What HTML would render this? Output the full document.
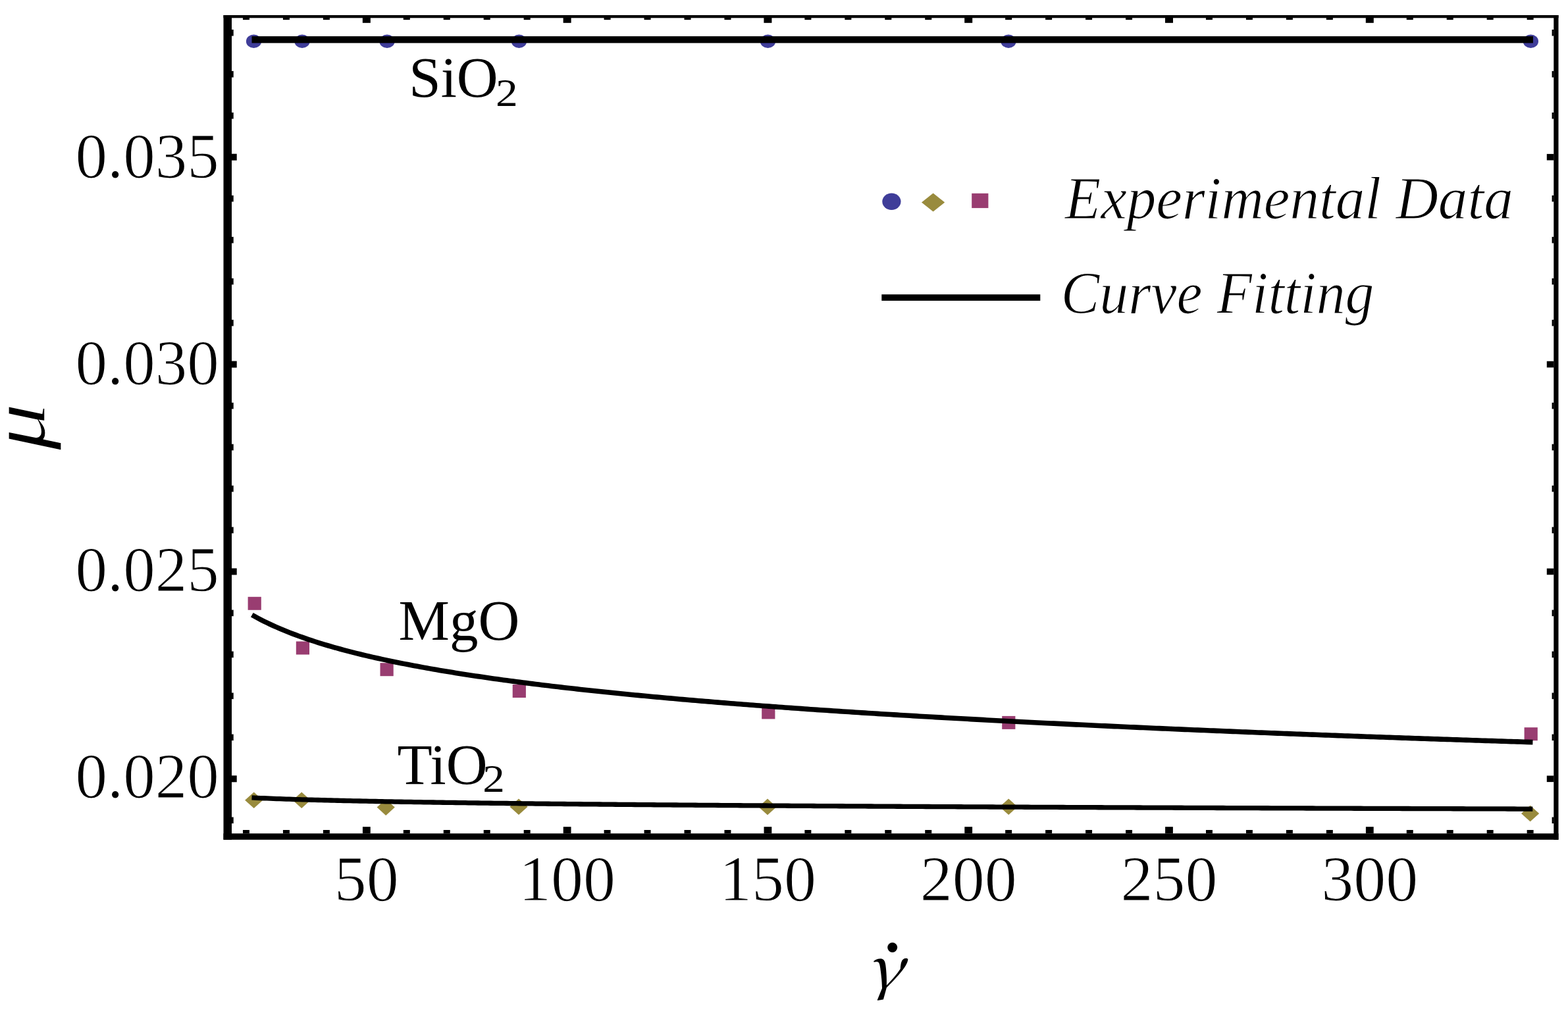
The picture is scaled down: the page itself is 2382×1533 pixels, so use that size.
<!DOCTYPE html>
<html><head><meta charset="utf-8"><title>Plot</title>
<style>html,body{margin:0;padding:0;background:#fff;}svg{display:block;}</style></head>
<body><svg width="2382" height="1533" viewBox="0 0 2382 1533">
<rect width="2382" height="1533" fill="#fff"/>
<ellipse cx="385.5" cy="62.7" rx="11.6" ry="10.2" fill="#3f3d99"/>
<ellipse cx="459" cy="62.7" rx="11.6" ry="10.2" fill="#3f3d99"/>
<ellipse cx="588" cy="62.7" rx="11.6" ry="10.2" fill="#3f3d99"/>
<ellipse cx="788.5" cy="62.7" rx="11.6" ry="10.2" fill="#3f3d99"/>
<ellipse cx="1166.5" cy="62.7" rx="11.6" ry="10.2" fill="#3f3d99"/>
<ellipse cx="1532" cy="62.7" rx="11.6" ry="10.2" fill="#3f3d99"/>
<ellipse cx="2325.4" cy="62.7" rx="11.6" ry="10.2" fill="#3f3d99"/>
<rect x="376.60" y="906.80" width="20.2" height="20" fill="#993d71"/>
<rect x="449.80" y="974.50" width="20.2" height="20" fill="#993d71"/>
<rect x="577.50" y="1007.20" width="20.2" height="20" fill="#993d71"/>
<rect x="778.70" y="1040.00" width="20.2" height="20" fill="#993d71"/>
<rect x="1157.20" y="1072.40" width="20.2" height="20" fill="#993d71"/>
<rect x="1522.20" y="1087.90" width="20.2" height="20" fill="#993d71"/>
<rect x="2315.60" y="1105.20" width="20.2" height="20" fill="#993d71"/>
<polygon points="372.10,1215.80 385.70,1203.50 399.30,1215.80 385.70,1228.10" fill="#998b3d"/>
<polygon points="444.60,1215.80 458.20,1203.50 471.80,1215.80 458.20,1228.10" fill="#998b3d"/>
<polygon points="572.60,1226.60 586.20,1214.30 599.80,1226.60 586.20,1238.90" fill="#998b3d"/>
<polygon points="774.40,1225.70 788.00,1213.40 801.60,1225.70 788.00,1238.00" fill="#998b3d"/>
<polygon points="1152.40,1225.90 1166.00,1213.60 1179.60,1225.90 1166.00,1238.20" fill="#998b3d"/>
<polygon points="1518.60,1225.80 1532.20,1213.50 1545.80,1225.80 1532.20,1238.10" fill="#998b3d"/>
<polygon points="2311.00,1236.00 2324.60,1223.70 2338.20,1236.00 2324.60,1248.30" fill="#998b3d"/>
<rect x="382.5" y="55.1" width="1946.5" height="10.3" fill="#000"/>
<polyline points="386.14,936.10 391.00,938.75 395.86,941.32 400.72,943.79 405.58,946.18 410.44,948.49 415.29,950.73 420.15,952.90 425.01,955.01 429.87,957.05 434.73,959.04 439.59,960.97 444.44,962.85 449.30,964.68 454.16,966.46 459.02,968.20 463.88,969.90 468.74,971.55 473.59,973.17 478.45,974.75 483.31,976.30 488.17,977.81 493.03,979.29 497.89,980.74 502.74,982.16 507.60,983.55 512.46,984.91 517.32,986.25 522.18,987.56 527.04,988.85 531.89,990.11 536.75,991.35 541.61,992.57 546.47,993.77 551.33,994.94 556.19,996.10 561.04,997.24 565.90,998.35 570.76,999.46 575.62,1000.54 580.48,1001.60 585.34,1002.65 590.19,1003.69 595.05,1004.71 599.91,1005.71 604.77,1006.70 609.63,1007.67 614.49,1008.63 619.34,1009.58 624.20,1010.52 629.06,1011.44 633.92,1012.35 638.78,1013.24 643.64,1014.13 648.49,1015.00 653.35,1015.87 658.21,1016.72 663.07,1017.56 667.93,1018.39 672.79,1019.21 677.64,1020.02 682.50,1020.82 687.36,1021.61 692.22,1022.40 697.08,1023.17 701.94,1023.94 706.79,1024.69 711.65,1025.44 716.51,1026.18 721.37,1026.91 726.23,1027.63 731.09,1028.35 735.94,1029.06 740.80,1029.76 745.66,1030.45 750.52,1031.14 755.38,1031.82 760.24,1032.49 765.09,1033.16 769.95,1033.81 774.81,1034.47 779.67,1035.11 784.53,1035.75 789.39,1036.39 794.24,1037.02 799.10,1037.64 803.96,1038.25 808.82,1038.87 813.68,1039.47 818.54,1040.07 823.39,1040.66 828.25,1041.25 833.11,1041.84 837.97,1042.42 842.83,1042.99 847.69,1043.56 852.54,1044.12 857.40,1044.68 862.26,1045.24 867.12,1045.79 871.98,1046.33 876.84,1046.87 881.70,1047.41 886.55,1047.94 891.41,1048.47 896.27,1048.99 901.13,1049.51 905.99,1050.03 910.85,1050.54 915.70,1051.05 920.56,1051.55 925.42,1052.05 930.28,1052.55 935.14,1053.04 940.00,1053.53 944.85,1054.01 949.71,1054.49 954.57,1054.97 959.43,1055.45 964.29,1055.92 969.15,1056.39 974.00,1056.85 978.86,1057.31 983.72,1057.77 988.58,1058.22 993.44,1058.68 998.30,1059.12 1003.15,1059.57 1008.01,1060.01 1012.87,1060.45 1017.73,1060.89 1022.59,1061.32 1027.45,1061.75 1032.30,1062.18 1037.16,1062.61 1042.02,1063.03 1046.88,1063.45 1051.74,1063.87 1056.60,1064.28 1061.45,1064.69 1066.31,1065.10 1071.17,1065.51 1076.03,1065.91 1080.89,1066.31 1085.75,1066.71 1090.60,1067.11 1095.46,1067.50 1100.32,1067.90 1105.18,1068.29 1110.04,1068.67 1114.90,1069.06 1119.75,1069.44 1124.61,1069.82 1129.47,1070.20 1134.33,1070.58 1139.19,1070.95 1144.05,1071.32 1148.90,1071.69 1153.76,1072.06 1158.62,1072.42 1163.48,1072.79 1168.34,1073.15 1173.20,1073.51 1178.05,1073.87 1182.91,1074.22 1187.77,1074.57 1192.63,1074.93 1197.49,1075.28 1202.35,1075.62 1207.20,1075.97 1212.06,1076.31 1216.92,1076.66 1221.78,1077.00 1226.64,1077.34 1231.50,1077.67 1236.35,1078.01 1241.21,1078.34 1246.07,1078.67 1250.93,1079.00 1255.79,1079.33 1260.65,1079.66 1265.50,1079.98 1270.36,1080.31 1275.22,1080.63 1280.08,1080.95 1284.94,1081.27 1289.80,1081.58 1294.65,1081.90 1299.51,1082.21 1304.37,1082.53 1309.23,1082.84 1314.09,1083.15 1318.95,1083.45 1323.80,1083.76 1328.66,1084.07 1333.52,1084.37 1338.38,1084.67 1343.24,1084.97 1348.10,1085.27 1352.95,1085.57 1357.81,1085.87 1362.67,1086.16 1367.53,1086.45 1372.39,1086.75 1377.25,1087.04 1382.10,1087.33 1386.96,1087.62 1391.82,1087.90 1396.68,1088.19 1401.54,1088.47 1406.40,1088.76 1411.25,1089.04 1416.11,1089.32 1420.97,1089.60 1425.83,1089.88 1430.69,1090.16 1435.55,1090.43 1440.40,1090.71 1445.26,1090.98 1450.12,1091.25 1454.98,1091.53 1459.84,1091.80 1464.70,1092.06 1469.55,1092.33 1474.41,1092.60 1479.27,1092.87 1484.13,1093.13 1488.99,1093.39 1493.85,1093.66 1498.70,1093.92 1503.56,1094.18 1508.42,1094.44 1513.28,1094.70 1518.14,1094.95 1523.00,1095.21 1527.85,1095.46 1532.71,1095.72 1537.57,1095.97 1542.43,1096.22 1547.29,1096.47 1552.15,1096.72 1557.00,1096.97 1561.86,1097.22 1566.72,1097.47 1571.58,1097.71 1576.44,1097.96 1581.30,1098.20 1586.15,1098.45 1591.01,1098.69 1595.87,1098.93 1600.73,1099.17 1605.59,1099.41 1610.45,1099.65 1615.30,1099.89 1620.16,1100.13 1625.02,1100.36 1629.88,1100.60 1634.74,1100.83 1639.60,1101.07 1644.45,1101.30 1649.31,1101.53 1654.17,1101.76 1659.03,1101.99 1663.89,1102.22 1668.75,1102.45 1673.60,1102.68 1678.46,1102.90 1683.32,1103.13 1688.18,1103.36 1693.04,1103.58 1697.90,1103.80 1702.75,1104.03 1707.61,1104.25 1712.47,1104.47 1717.33,1104.69 1722.19,1104.91 1727.05,1105.13 1731.90,1105.35 1736.76,1105.57 1741.62,1105.78 1746.48,1106.00 1751.34,1106.21 1756.20,1106.43 1761.05,1106.64 1765.91,1106.85 1770.77,1107.07 1775.63,1107.28 1780.49,1107.49 1785.35,1107.70 1790.20,1107.91 1795.06,1108.12 1799.92,1108.33 1804.78,1108.53 1809.64,1108.74 1814.50,1108.95 1819.35,1109.15 1824.21,1109.36 1829.07,1109.56 1833.93,1109.77 1838.79,1109.97 1843.65,1110.17 1848.50,1110.37 1853.36,1110.57 1858.22,1110.77 1863.08,1110.97 1867.94,1111.17 1872.80,1111.37 1877.65,1111.57 1882.51,1111.76 1887.37,1111.96 1892.23,1112.16 1897.09,1112.35 1901.95,1112.55 1906.80,1112.74 1911.66,1112.94 1916.52,1113.13 1921.38,1113.32 1926.24,1113.51 1931.10,1113.70 1935.95,1113.89 1940.81,1114.08 1945.67,1114.27 1950.53,1114.46 1955.39,1114.65 1960.25,1114.84 1965.10,1115.03 1969.96,1115.21 1974.82,1115.40 1979.68,1115.58 1984.54,1115.77 1989.40,1115.95 1994.25,1116.14 1999.11,1116.32 2003.97,1116.50 2008.83,1116.68 2013.69,1116.87 2018.55,1117.05 2023.40,1117.23 2028.26,1117.41 2033.12,1117.59 2037.98,1117.77 2042.84,1117.95 2047.70,1118.12 2052.55,1118.30 2057.41,1118.48 2062.27,1118.66 2067.13,1118.83 2071.99,1119.01 2076.85,1119.18 2081.70,1119.36 2086.56,1119.53 2091.42,1119.70 2096.28,1119.88 2101.14,1120.05 2106.00,1120.22 2110.85,1120.39 2115.71,1120.57 2120.57,1120.74 2125.43,1120.91 2130.29,1121.08 2135.15,1121.25 2140.00,1121.42 2144.86,1121.58 2149.72,1121.75 2154.58,1121.92 2159.44,1122.09 2164.30,1122.25 2169.15,1122.42 2174.01,1122.59 2178.87,1122.75 2183.73,1122.92 2188.59,1123.08 2193.45,1123.24 2198.30,1123.41 2203.16,1123.57 2208.02,1123.73 2212.88,1123.90 2217.74,1124.06 2222.60,1124.22 2227.45,1124.38 2232.31,1124.54 2237.17,1124.70 2242.03,1124.86 2246.89,1125.02 2251.75,1125.18 2256.60,1125.34 2261.46,1125.50 2266.32,1125.66 2271.18,1125.81 2276.04,1125.97 2280.90,1126.13 2285.75,1126.28 2290.61,1126.44 2295.47,1126.59 2300.33,1126.75 2305.19,1126.90 2310.05,1127.06 2314.90,1127.21 2319.76,1127.37 2324.62,1127.52" fill="none" stroke="#000" stroke-width="7.6" stroke-linecap="square" stroke-linejoin="round"/>
<polyline points="386.14,1212.12 391.00,1212.34 395.86,1212.56 400.72,1212.77 405.58,1212.97 410.44,1213.16 415.29,1213.35 420.15,1213.53 425.01,1213.71 429.87,1213.88 434.73,1214.05 439.59,1214.21 444.44,1214.37 449.30,1214.53 454.16,1214.68 459.02,1214.83 463.88,1214.97 468.74,1215.11 473.59,1215.25 478.45,1215.39 483.31,1215.52 488.17,1215.65 493.03,1215.77 497.89,1215.90 502.74,1216.02 507.60,1216.14 512.46,1216.26 517.32,1216.37 522.18,1216.48 527.04,1216.59 531.89,1216.70 536.75,1216.81 541.61,1216.92 546.47,1217.02 551.33,1217.12 556.19,1217.22 561.04,1217.32 565.90,1217.42 570.76,1217.51 575.62,1217.61 580.48,1217.70 585.34,1217.79 590.19,1217.88 595.05,1217.97 599.91,1218.05 604.77,1218.14 609.63,1218.23 614.49,1218.31 619.34,1218.39 624.20,1218.47 629.06,1218.55 633.92,1218.63 638.78,1218.71 643.64,1218.79 648.49,1218.87 653.35,1218.94 658.21,1219.02 663.07,1219.09 667.93,1219.16 672.79,1219.23 677.64,1219.31 682.50,1219.38 687.36,1219.45 692.22,1219.51 697.08,1219.58 701.94,1219.65 706.79,1219.72 711.65,1219.78 716.51,1219.85 721.37,1219.91 726.23,1219.98 731.09,1220.04 735.94,1220.10 740.80,1220.16 745.66,1220.23 750.52,1220.29 755.38,1220.35 760.24,1220.41 765.09,1220.46 769.95,1220.52 774.81,1220.58 779.67,1220.64 784.53,1220.69 789.39,1220.75 794.24,1220.81 799.10,1220.86 803.96,1220.92 808.82,1220.97 813.68,1221.03 818.54,1221.08 823.39,1221.13 828.25,1221.18 833.11,1221.24 837.97,1221.29 842.83,1221.34 847.69,1221.39 852.54,1221.44 857.40,1221.49 862.26,1221.54 867.12,1221.59 871.98,1221.64 876.84,1221.69 881.70,1221.73 886.55,1221.78 891.41,1221.83 896.27,1221.87 901.13,1221.92 905.99,1221.97 910.85,1222.01 915.70,1222.06 920.56,1222.10 925.42,1222.15 930.28,1222.19 935.14,1222.24 940.00,1222.28 944.85,1222.32 949.71,1222.37 954.57,1222.41 959.43,1222.45 964.29,1222.50 969.15,1222.54 974.00,1222.58 978.86,1222.62 983.72,1222.66 988.58,1222.70 993.44,1222.74 998.30,1222.78 1003.15,1222.82 1008.01,1222.86 1012.87,1222.90 1017.73,1222.94 1022.59,1222.98 1027.45,1223.02 1032.30,1223.06 1037.16,1223.10 1042.02,1223.14 1046.88,1223.17 1051.74,1223.21 1056.60,1223.25 1061.45,1223.29 1066.31,1223.32 1071.17,1223.36 1076.03,1223.40 1080.89,1223.43 1085.75,1223.47 1090.60,1223.51 1095.46,1223.54 1100.32,1223.58 1105.18,1223.61 1110.04,1223.65 1114.90,1223.68 1119.75,1223.72 1124.61,1223.75 1129.47,1223.79 1134.33,1223.82 1139.19,1223.85 1144.05,1223.89 1148.90,1223.92 1153.76,1223.95 1158.62,1223.99 1163.48,1224.02 1168.34,1224.05 1173.20,1224.09 1178.05,1224.12 1182.91,1224.15 1187.77,1224.18 1192.63,1224.21 1197.49,1224.25 1202.35,1224.28 1207.20,1224.31 1212.06,1224.34 1216.92,1224.37 1221.78,1224.40 1226.64,1224.43 1231.50,1224.46 1236.35,1224.50 1241.21,1224.53 1246.07,1224.56 1250.93,1224.59 1255.79,1224.62 1260.65,1224.65 1265.50,1224.68 1270.36,1224.71 1275.22,1224.73 1280.08,1224.76 1284.94,1224.79 1289.80,1224.82 1294.65,1224.85 1299.51,1224.88 1304.37,1224.91 1309.23,1224.94 1314.09,1224.96 1318.95,1224.99 1323.80,1225.02 1328.66,1225.05 1333.52,1225.08 1338.38,1225.10 1343.24,1225.13 1348.10,1225.16 1352.95,1225.19 1357.81,1225.21 1362.67,1225.24 1367.53,1225.27 1372.39,1225.29 1377.25,1225.32 1382.10,1225.35 1386.96,1225.37 1391.82,1225.40 1396.68,1225.43 1401.54,1225.45 1406.40,1225.48 1411.25,1225.51 1416.11,1225.53 1420.97,1225.56 1425.83,1225.58 1430.69,1225.61 1435.55,1225.63 1440.40,1225.66 1445.26,1225.68 1450.12,1225.71 1454.98,1225.73 1459.84,1225.76 1464.70,1225.78 1469.55,1225.81 1474.41,1225.83 1479.27,1225.86 1484.13,1225.88 1488.99,1225.91 1493.85,1225.93 1498.70,1225.95 1503.56,1225.98 1508.42,1226.00 1513.28,1226.03 1518.14,1226.05 1523.00,1226.07 1527.85,1226.10 1532.71,1226.12 1537.57,1226.14 1542.43,1226.17 1547.29,1226.19 1552.15,1226.21 1557.00,1226.24 1561.86,1226.26 1566.72,1226.28 1571.58,1226.30 1576.44,1226.33 1581.30,1226.35 1586.15,1226.37 1591.01,1226.39 1595.87,1226.42 1600.73,1226.44 1605.59,1226.46 1610.45,1226.48 1615.30,1226.51 1620.16,1226.53 1625.02,1226.55 1629.88,1226.57 1634.74,1226.59 1639.60,1226.61 1644.45,1226.64 1649.31,1226.66 1654.17,1226.68 1659.03,1226.70 1663.89,1226.72 1668.75,1226.74 1673.60,1226.76 1678.46,1226.78 1683.32,1226.81 1688.18,1226.83 1693.04,1226.85 1697.90,1226.87 1702.75,1226.89 1707.61,1226.91 1712.47,1226.93 1717.33,1226.95 1722.19,1226.97 1727.05,1226.99 1731.90,1227.01 1736.76,1227.03 1741.62,1227.05 1746.48,1227.07 1751.34,1227.09 1756.20,1227.11 1761.05,1227.13 1765.91,1227.15 1770.77,1227.17 1775.63,1227.19 1780.49,1227.21 1785.35,1227.23 1790.20,1227.25 1795.06,1227.27 1799.92,1227.29 1804.78,1227.31 1809.64,1227.33 1814.50,1227.35 1819.35,1227.36 1824.21,1227.38 1829.07,1227.40 1833.93,1227.42 1838.79,1227.44 1843.65,1227.46 1848.50,1227.48 1853.36,1227.50 1858.22,1227.52 1863.08,1227.53 1867.94,1227.55 1872.80,1227.57 1877.65,1227.59 1882.51,1227.61 1887.37,1227.63 1892.23,1227.64 1897.09,1227.66 1901.95,1227.68 1906.80,1227.70 1911.66,1227.72 1916.52,1227.74 1921.38,1227.75 1926.24,1227.77 1931.10,1227.79 1935.95,1227.81 1940.81,1227.82 1945.67,1227.84 1950.53,1227.86 1955.39,1227.88 1960.25,1227.90 1965.10,1227.91 1969.96,1227.93 1974.82,1227.95 1979.68,1227.96 1984.54,1227.98 1989.40,1228.00 1994.25,1228.02 1999.11,1228.03 2003.97,1228.05 2008.83,1228.07 2013.69,1228.08 2018.55,1228.10 2023.40,1228.12 2028.26,1228.14 2033.12,1228.15 2037.98,1228.17 2042.84,1228.19 2047.70,1228.20 2052.55,1228.22 2057.41,1228.24 2062.27,1228.25 2067.13,1228.27 2071.99,1228.29 2076.85,1228.30 2081.70,1228.32 2086.56,1228.33 2091.42,1228.35 2096.28,1228.37 2101.14,1228.38 2106.00,1228.40 2110.85,1228.42 2115.71,1228.43 2120.57,1228.45 2125.43,1228.46 2130.29,1228.48 2135.15,1228.50 2140.00,1228.51 2144.86,1228.53 2149.72,1228.54 2154.58,1228.56 2159.44,1228.57 2164.30,1228.59 2169.15,1228.61 2174.01,1228.62 2178.87,1228.64 2183.73,1228.65 2188.59,1228.67 2193.45,1228.68 2198.30,1228.70 2203.16,1228.71 2208.02,1228.73 2212.88,1228.74 2217.74,1228.76 2222.60,1228.77 2227.45,1228.79 2232.31,1228.81 2237.17,1228.82 2242.03,1228.84 2246.89,1228.85 2251.75,1228.87 2256.60,1228.88 2261.46,1228.89 2266.32,1228.91 2271.18,1228.92 2276.04,1228.94 2280.90,1228.95 2285.75,1228.97 2290.61,1228.98 2295.47,1229.00 2300.33,1229.01 2305.19,1229.03 2310.05,1229.04 2314.90,1229.06 2319.76,1229.07 2324.62,1229.09" fill="none" stroke="#000" stroke-width="7.3" stroke-linecap="square" stroke-linejoin="round"/>
<rect x="339.5" y="23" width="2028" height="4.3" fill="#000"/>
<rect x="339.5" y="1266.3" width="2028" height="9.5" fill="#000"/>
<rect x="339.5" y="23" width="12.5" height="1252.8" fill="#000"/>
<rect x="2360.3" y="23" width="7.2" height="1252.8" fill="#000"/>
<rect x="368.95" y="1261" width="10" height="5.4" fill="#000"/>
<rect x="368.95" y="27" width="10" height="3.1" fill="#000"/>
<rect x="429.91" y="1261" width="10" height="5.4" fill="#000"/>
<rect x="429.91" y="27" width="10" height="3.1" fill="#000"/>
<rect x="490.87" y="1261" width="10" height="5.4" fill="#000"/>
<rect x="490.87" y="27" width="10" height="3.1" fill="#000"/>
<rect x="550.93" y="1256.2" width="11.8" height="10.2" fill="#000"/>
<rect x="550.83" y="27" width="12" height="7.8" fill="#000"/>
<rect x="612.79" y="1261" width="10" height="5.4" fill="#000"/>
<rect x="612.79" y="27" width="10" height="3.1" fill="#000"/>
<rect x="673.74" y="1261" width="10" height="5.4" fill="#000"/>
<rect x="673.74" y="27" width="10" height="3.1" fill="#000"/>
<rect x="734.70" y="1261" width="10" height="5.4" fill="#000"/>
<rect x="734.70" y="27" width="10" height="3.1" fill="#000"/>
<rect x="795.66" y="1261" width="10" height="5.4" fill="#000"/>
<rect x="795.66" y="27" width="10" height="3.1" fill="#000"/>
<rect x="855.72" y="1256.2" width="11.8" height="10.2" fill="#000"/>
<rect x="855.62" y="27" width="12" height="7.8" fill="#000"/>
<rect x="917.58" y="1261" width="10" height="5.4" fill="#000"/>
<rect x="917.58" y="27" width="10" height="3.1" fill="#000"/>
<rect x="978.54" y="1261" width="10" height="5.4" fill="#000"/>
<rect x="978.54" y="27" width="10" height="3.1" fill="#000"/>
<rect x="1039.50" y="1261" width="10" height="5.4" fill="#000"/>
<rect x="1039.50" y="27" width="10" height="3.1" fill="#000"/>
<rect x="1100.45" y="1261" width="10" height="5.4" fill="#000"/>
<rect x="1100.45" y="27" width="10" height="3.1" fill="#000"/>
<rect x="1160.51" y="1256.2" width="11.8" height="10.2" fill="#000"/>
<rect x="1160.41" y="27" width="12" height="7.8" fill="#000"/>
<rect x="1222.37" y="1261" width="10" height="5.4" fill="#000"/>
<rect x="1222.37" y="27" width="10" height="3.1" fill="#000"/>
<rect x="1283.33" y="1261" width="10" height="5.4" fill="#000"/>
<rect x="1283.33" y="27" width="10" height="3.1" fill="#000"/>
<rect x="1344.29" y="1261" width="10" height="5.4" fill="#000"/>
<rect x="1344.29" y="27" width="10" height="3.1" fill="#000"/>
<rect x="1405.25" y="1261" width="10" height="5.4" fill="#000"/>
<rect x="1405.25" y="27" width="10" height="3.1" fill="#000"/>
<rect x="1465.30" y="1256.2" width="11.8" height="10.2" fill="#000"/>
<rect x="1465.20" y="27" width="12" height="7.8" fill="#000"/>
<rect x="1527.16" y="1261" width="10" height="5.4" fill="#000"/>
<rect x="1527.16" y="27" width="10" height="3.1" fill="#000"/>
<rect x="1588.12" y="1261" width="10" height="5.4" fill="#000"/>
<rect x="1588.12" y="27" width="10" height="3.1" fill="#000"/>
<rect x="1649.08" y="1261" width="10" height="5.4" fill="#000"/>
<rect x="1649.08" y="27" width="10" height="3.1" fill="#000"/>
<rect x="1710.04" y="1261" width="10" height="5.4" fill="#000"/>
<rect x="1710.04" y="27" width="10" height="3.1" fill="#000"/>
<rect x="1770.10" y="1256.2" width="11.8" height="10.2" fill="#000"/>
<rect x="1770.00" y="27" width="12" height="7.8" fill="#000"/>
<rect x="1831.95" y="1261" width="10" height="5.4" fill="#000"/>
<rect x="1831.95" y="27" width="10" height="3.1" fill="#000"/>
<rect x="1892.91" y="1261" width="10" height="5.4" fill="#000"/>
<rect x="1892.91" y="27" width="10" height="3.1" fill="#000"/>
<rect x="1953.87" y="1261" width="10" height="5.4" fill="#000"/>
<rect x="1953.87" y="27" width="10" height="3.1" fill="#000"/>
<rect x="2014.83" y="1261" width="10" height="5.4" fill="#000"/>
<rect x="2014.83" y="27" width="10" height="3.1" fill="#000"/>
<rect x="2074.89" y="1256.2" width="11.8" height="10.2" fill="#000"/>
<rect x="2074.79" y="27" width="12" height="7.8" fill="#000"/>
<rect x="2136.75" y="1261" width="10" height="5.4" fill="#000"/>
<rect x="2136.75" y="27" width="10" height="3.1" fill="#000"/>
<rect x="2197.70" y="1261" width="10" height="5.4" fill="#000"/>
<rect x="2197.70" y="27" width="10" height="3.1" fill="#000"/>
<rect x="2258.66" y="1261" width="10" height="5.4" fill="#000"/>
<rect x="2258.66" y="27" width="10" height="3.1" fill="#000"/>
<rect x="2319.62" y="1261" width="10" height="5.4" fill="#000"/>
<rect x="2319.62" y="27" width="10" height="3.1" fill="#000"/>
<rect x="351.5" y="1241.48" width="3.2" height="9.6" fill="#000"/>
<rect x="2357.6" y="1241.48" width="2.9" height="9.6" fill="#000"/>
<rect x="351.5" y="1178.31" width="8.2" height="10" fill="#000"/>
<rect x="2349.8" y="1178.51" width="10.7" height="9.6" fill="#000"/>
<rect x="351.5" y="1115.54" width="3.2" height="9.6" fill="#000"/>
<rect x="2357.6" y="1115.54" width="2.9" height="9.6" fill="#000"/>
<rect x="351.5" y="1052.56" width="3.2" height="9.6" fill="#000"/>
<rect x="2357.6" y="1052.56" width="2.9" height="9.6" fill="#000"/>
<rect x="351.5" y="989.59" width="3.2" height="9.6" fill="#000"/>
<rect x="2357.6" y="989.59" width="2.9" height="9.6" fill="#000"/>
<rect x="351.5" y="926.61" width="3.2" height="9.6" fill="#000"/>
<rect x="2357.6" y="926.61" width="2.9" height="9.6" fill="#000"/>
<rect x="351.5" y="863.44" width="8.2" height="10" fill="#000"/>
<rect x="2349.8" y="863.64" width="10.7" height="9.6" fill="#000"/>
<rect x="351.5" y="800.67" width="3.2" height="9.6" fill="#000"/>
<rect x="2357.6" y="800.67" width="2.9" height="9.6" fill="#000"/>
<rect x="351.5" y="737.69" width="3.2" height="9.6" fill="#000"/>
<rect x="2357.6" y="737.69" width="2.9" height="9.6" fill="#000"/>
<rect x="351.5" y="674.72" width="3.2" height="9.6" fill="#000"/>
<rect x="2357.6" y="674.72" width="2.9" height="9.6" fill="#000"/>
<rect x="351.5" y="611.74" width="3.2" height="9.6" fill="#000"/>
<rect x="2357.6" y="611.74" width="2.9" height="9.6" fill="#000"/>
<rect x="351.5" y="548.57" width="8.2" height="10" fill="#000"/>
<rect x="2349.8" y="548.77" width="10.7" height="9.6" fill="#000"/>
<rect x="351.5" y="485.80" width="3.2" height="9.6" fill="#000"/>
<rect x="2357.6" y="485.80" width="2.9" height="9.6" fill="#000"/>
<rect x="351.5" y="422.82" width="3.2" height="9.6" fill="#000"/>
<rect x="2357.6" y="422.82" width="2.9" height="9.6" fill="#000"/>
<rect x="351.5" y="359.85" width="3.2" height="9.6" fill="#000"/>
<rect x="2357.6" y="359.85" width="2.9" height="9.6" fill="#000"/>
<rect x="351.5" y="296.87" width="3.2" height="9.6" fill="#000"/>
<rect x="2357.6" y="296.87" width="2.9" height="9.6" fill="#000"/>
<rect x="351.5" y="233.70" width="8.2" height="10" fill="#000"/>
<rect x="2349.8" y="233.90" width="10.7" height="9.6" fill="#000"/>
<rect x="351.5" y="170.93" width="3.2" height="9.6" fill="#000"/>
<rect x="2357.6" y="170.93" width="2.9" height="9.6" fill="#000"/>
<rect x="351.5" y="107.95" width="3.2" height="9.6" fill="#000"/>
<rect x="2357.6" y="107.95" width="2.9" height="9.6" fill="#000"/>
<rect x="351.5" y="44.98" width="3.2" height="9.6" fill="#000"/>
<rect x="2357.6" y="44.98" width="2.9" height="9.6" fill="#000"/>
<ellipse cx="1354.4" cy="306.3" rx="14.1" ry="12.75" fill="#3f3d99"/>
<polygon points="1400,307.5 1417.6,293.5 1435.2,307.5 1417.6,321.5" fill="#998b3d"/>
<rect x="1476.2" y="293.8" width="25.2" height="22.3" fill="#993d71"/>
<rect x="1339.3" y="447.3" width="241" height="9.6" fill="#000"/>
<text x="114.4" y="270.15" font-family="Liberation Serif, serif" stroke="#fff" stroke-width="1.2" font-size="97">0.035</text>
<text x="114.4" y="584.15" font-family="Liberation Serif, serif" stroke="#fff" stroke-width="1.2" font-size="97">0.030</text>
<text x="114.4" y="898.15" font-family="Liberation Serif, serif" stroke="#fff" stroke-width="1.2" font-size="97">0.025</text>
<text x="114.4" y="1212.40" font-family="Liberation Serif, serif" stroke="#fff" stroke-width="1.2" font-size="97">0.020</text>
<text x="556.83" y="1368.2" font-family="Liberation Serif, serif" stroke="#fff" stroke-width="1.2" font-size="98" text-anchor="middle">50</text>
<text x="861.62" y="1368.2" font-family="Liberation Serif, serif" stroke="#fff" stroke-width="1.2" font-size="98" text-anchor="middle">100</text>
<text x="1166.41" y="1368.2" font-family="Liberation Serif, serif" stroke="#fff" stroke-width="1.2" font-size="98" text-anchor="middle">150</text>
<text x="1471.20" y="1368.2" font-family="Liberation Serif, serif" stroke="#fff" stroke-width="1.2" font-size="98" text-anchor="middle">200</text>
<text x="1776.00" y="1368.2" font-family="Liberation Serif, serif" stroke="#fff" stroke-width="1.2" font-size="98" text-anchor="middle">250</text>
<text x="2080.79" y="1368.2" font-family="Liberation Serif, serif" stroke="#fff" stroke-width="1.2" font-size="98" text-anchor="middle">300</text>
<text x="621.3" y="147.4" font-family="Liberation Serif, serif" font-size="87">SiO</text><text transform="translate(753.0,160.6) scale(1.125,1)" font-family="Liberation Serif, serif" font-size="60">2</text>
<text x="605.6" y="972.3" font-family="Liberation Serif, serif" font-size="87">MgO</text>
<text x="603.4" y="1190.5" font-family="Liberation Serif, serif" font-size="87">TiO</text><text transform="translate(733.3,1203.3) scale(1.12,1)" font-family="Liberation Serif, serif" font-size="60">2</text>
<text transform="translate(1617.65,331.6) scale(0.9802,1)" font-family="Liberation Serif, serif" stroke="#fff" stroke-width="1.2" font-size="91" font-style="italic">Experimental Data</text>
<text transform="translate(1611.7,476.2) scale(0.9656,1)" font-family="Liberation Serif, serif" stroke="#fff" stroke-width="1.2" font-size="91" font-style="italic">Curve Fitting</text>
<text transform="translate(67.65,684) rotate(-90) scale(1.188,1)" font-family="Liberation Serif, serif" stroke="#fff" stroke-width="1.2" font-size="119.5" font-style="italic">μ</text>
<text transform="translate(1314.5,1502) scale(1.22,1)" font-family="Noto Serif CJK SC, Liberation Serif, serif" font-size="86.7" font-style="italic">γ</text>
<text x="1323.2" y="1525.8" font-family="Liberation Serif, serif" font-size="141" font-style="italic">˙</text>
</svg></body></html>
